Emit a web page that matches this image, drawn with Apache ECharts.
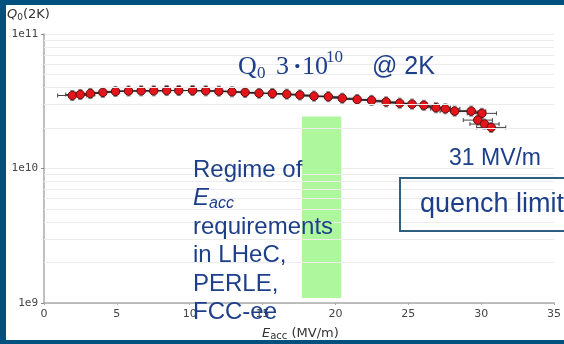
<!DOCTYPE html>
<html><head><meta charset="utf-8">
<script src="https://cdn.jsdelivr.net/npm/echarts@6/dist/echarts.min.js"></script>
<style>html,body{margin:0;padding:0;background:#fff}#c{width:564px;height:344px}</style>
</head><body><div id="c"></div>
<script>
// Accelerating gradient (MV/m)
const eacc = [1.94, 2.49, 3.18, 4.04, 4.91, 5.80, 6.67, 7.53, 8.42, 9.25,
  10.2, 11.1, 12.0, 12.9, 13.8, 14.76, 15.67, 16.66, 17.56, 18.53,
  19.51, 20.47, 21.49, 22.48, 23.48, 24.41, 25.26, 26.07, 26.9, 27.54,
  28.18, 29.32, 30.05, 29.77, 30.23, 30.69];
// Quality factor Q0 at 2K
const q0 = [3.49e10, 3.55e10, 3.61e10, 3.68e10, 3.74e10, 3.77e10, 3.78e10, 3.78e10, 3.80e10, 3.80e10,
  3.80e10, 3.78e10, 3.76e10, 3.72e10, 3.68e10, 3.63e10, 3.61e10, 3.57e10, 3.52e10, 3.45e10,
  3.42e10, 3.33e10, 3.26e10, 3.21e10, 3.13e10, 3.06e10, 3.01e10, 2.95e10, 2.83e10, 2.78e10,
  2.67e10, 2.67e10, 2.57e10, 2.29e10, 2.14e10, 2.02e10];
// Error bars: Eacc ± (MV/m), Q0 relative
const eaccErr = [1,1,1,1,1,1,1,1,1,1, 1,1,1,1,1,1,1,1,1,1, 1,1,1,1,1,1,1,1,1,1, 1,1,1,1,1,1];
const q0ErrRel = [0.09,0.09,0.09,0.09,0.09,0.09,0.09,0.09,0.09,0.09, 0.09,0.09,0.09,0.09,0.09,0.09,0.09,0.09,0.09,0.09,
  0.09,0.09,0.09,0.09,0.09,0.09,0.09,0.09,0.09,0.09, 0.09,0.09,0.09,0.09,0.09,0.09];
// Minor log gridlines
const minorGrid = [2e9,3e9,4e9,5e9,6e9,7e9,8e9,9e9, 2e10,3e10,4e10,5e10,6e10,7e10,8e10,9e10];
// Regime band: Eacc range and Q0 range
const bandEacc = [17.7, 20.4];
const bandQ0 = [1.09e9, 2.44e10];

const navy = '#1d3f8a';
const chart = echarts.init(document.getElementById('c'), null, {renderer: 'canvas'});

const errData = eacc.map((x, i) => [x, q0[i], eaccErr[i], q0ErrRel[i]]);
const lineData = eacc.map((x, i) => [x, q0[i]]);

chart.setOption({
  animation: false,
  backgroundColor: '#fff',
  grid: {left: 44, right: 8, top: 34, bottom: 41},
  xAxis: {
    type: 'value', min: 0, max: 35, interval: 5,
    axisLine: {show: true, lineStyle: {color: '#aaa', width: 1.5}},
    axisTick: {show: true, length: 2, lineStyle: {color: '#aaa'}},
    axisLabel: {color: '#444', fontFamily: 'DejaVu Sans', fontSize: 11, margin: 6},
    splitLine: {show: false}
  },
  yAxis: {
    type: 'log', logBase: 10, min: 1e9, max: 1e11,
    axisLine: {show: true, lineStyle: {color: '#aaa', width: 1.5}},
    axisTick: {show: true, length: 3, lineStyle: {color: '#888'}},
    axisLabel: {color: '#444', fontFamily: 'DejaVu Sans Mono', fontSize: 11, margin: 6,
      formatter: v => '1e' + Math.round(Math.log10(v))},
    splitLine: {show: true, lineStyle: {color: '#ececec', width: 1}}
  },
  series: [
    {
      type: 'line', data: [], z: 0, silent: true,
      markLine: {silent: true, symbol: ['none', 'none'], label: {show: false},
        lineStyle: {color: '#ececec', type: 'solid', width: 1},
        data: minorGrid.map(v => ({yAxis: v}))},
      markArea: {silent: true, itemStyle: {color: '#aff79c', opacity: 1},
        data: [[{coord: [bandEacc[0], bandQ0[1]]}, {coord: [bandEacc[1], bandQ0[0]]}]]}
    },
    {
      type: 'custom', z: 2, silent: true,
      encode: {x: 0, y: 1},
      data: errData,
      renderItem: (params, api) => {
        const x = api.value(0), y = api.value(1), ex = api.value(2), ey = api.value(3);
        const c = api.coord([x, y]);
        const top = api.coord([x, y * (1 + ey)]), bot = api.coord([x, y / (1 + ey)]);
        const l = api.coord([x - ex, y]), r = api.coord([x + ex, y]);
        const sv = {stroke: '#888', lineWidth: 1};
        const sh = {stroke: '#444', lineWidth: 1};
        return {type: 'group', children: [
          {type: 'line', shape: {x1: l[0], y1: c[1], x2: r[0], y2: c[1]}, style: sh},
          {type: 'line', shape: {x1: l[0], y1: c[1] - 2, x2: l[0], y2: c[1] + 2}, style: sh},
          {type: 'line', shape: {x1: r[0], y1: c[1] - 2, x2: r[0], y2: c[1] + 2}, style: sh},
          {type: 'line', shape: {x1: c[0], y1: top[1], x2: c[0], y2: bot[1]}, style: sv},
          {type: 'line', shape: {x1: c[0] - 2, y1: top[1], x2: c[0] + 2, y2: top[1]}, style: sv},
          {type: 'line', shape: {x1: c[0] - 2, y1: bot[1], x2: c[0] + 2, y2: bot[1]}, style: sv}
        ]};
      }
    },
    {
      type: 'line', z: 3, data: lineData,
      symbol: 'circle', symbolSize: 8.5,
      itemStyle: {color: '#e3151b', borderColor: '#5e0b0b', borderWidth: 1},
      lineStyle: {color: '#222', width: 1.2, shadowColor: 'rgba(0,0,0,0.35)', shadowBlur: 4}
    }
  ],
  graphic: [
    {type: 'rect', z: 100, shape: {x: 0, y: 0, width: 6, height: 344}, style: {fill: '#02507e'}},
    {type: 'rect', z: 100, shape: {x: 0, y: 0, width: 564, height: 5}, style: {fill: '#02507e'}},
    {type: 'rect', z: 100, shape: {x: 0, y: 340, width: 564, height: 4}, style: {fill: '#02507e'}},
    {type: 'text', z: 100, left: 7, top: 8, style: {
      text: '{q|Q}{s|0}{n|(2K)}',
      rich: {
        q: {fontFamily: 'DejaVu Sans', fontStyle: 'italic', fontSize: 13, fill: '#333'},
        s: {fontFamily: 'DejaVu Sans', fontSize: 9, fill: '#333', padding: [6, 0, 0, 0]},
        n: {fontFamily: 'DejaVu Sans', fontSize: 13, fill: '#333'}
      }}},
    {type: 'text', z: 100, left: 262, top: 327, style: {
      text: '{e|E}{s|acc}{n| (MV/m)}',
      rich: {
        e: {fontFamily: 'DejaVu Sans', fontStyle: 'italic', fontSize: 13, fill: '#333'},
        s: {fontFamily: 'DejaVu Sans', fontSize: 10, fill: '#333', padding: [6, 0, 0, 0]},
        n: {fontFamily: 'DejaVu Sans', fontSize: 13, fill: '#333'}
      }}},
    // Q0 3·10^10 @ 2K
    {type: 'text', z: 100, x: 238, y: 67, style: {text: 'Q', font: '26px "Liberation Serif"', fill: navy, verticalAlign: 'middle'}},
    {type: 'text', z: 100, x: 257, y: 74, style: {text: '0', font: '17px "Liberation Serif"', fill: navy, verticalAlign: 'middle'}},
    {type: 'text', z: 100, x: 276, y: 67, style: {text: '3', font: '26px "Liberation Serif"', fill: navy, verticalAlign: 'middle'}},
    {type: 'text', z: 100, x: 293, y: 67, style: {text: '·', font: 'bold 26px "Liberation Serif"', fill: navy, verticalAlign: 'middle'}},
    {type: 'text', z: 100, x: 302, y: 67, style: {text: '10', font: '26px "Liberation Serif"', fill: navy, verticalAlign: 'middle'}},
    {type: 'text', z: 100, x: 326, y: 58, style: {text: '10', font: '17px "Liberation Serif"', fill: navy, verticalAlign: 'middle'}},
    {type: 'text', z: 100, x: 372, y: 67, style: {text: '@ 2K', font: '25px "Liberation Sans"', fill: navy, verticalAlign: 'middle'}},
    // Regime text
    {type: 'text', z: 100, left: 193, top: 156, style: {
      text: 'Regime of\n{e|E}{s|acc}\nrequirements\nin LHeC,\nPERLE,\nFCC-ee',
      font: '24px "Liberation Sans"', fill: navy, lineHeight: 28.5,
      rich: {
        e: {fontFamily: 'Liberation Sans', fontStyle: 'italic', fontSize: 24, fill: navy, lineHeight: 28.5},
        s: {fontFamily: 'Liberation Sans', fontStyle: 'italic', fontSize: 16, fill: navy, padding: [10, 0, 0, 0], lineHeight: 28.5}
      }}},
    {type: 'text', z: 100, x: 449, y: 159, style: {text: '31 MV/m', font: '23px "Liberation Sans"', fill: navy, verticalAlign: 'middle'}},
    {type: 'rect', z: 100, shape: {x: 400, y: 178, width: 200, height: 53}, style: {fill: 'none', stroke: '#2d5f80', lineWidth: 2}},
    {type: 'text', z: 100, x: 420, y: 205, style: {text: 'quench limit', font: '27px "Liberation Sans"', fill: navy, verticalAlign: 'middle'}}
  ]
});
</script>
</body></html>
